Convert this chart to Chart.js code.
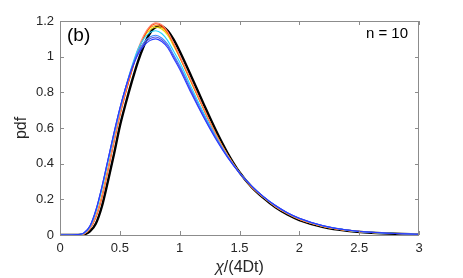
<!DOCTYPE html>
<html>
<head>
<meta charset="utf-8">
<script src="https://cdn.jsdelivr.net/npm/chart.js@4.4.1/dist/chart.umd.min.js"></script>
<style>
  html, body { margin: 0; padding: 0; background: #fff; }
  #wrap { width: 463px; height: 278px; position: relative; }
</style>
</head>
<body>
<div id="wrap"><canvas id="myChart" width="463" height="278"></canvas></div>
<script>
// grid of x values shared by every curve
const xVals = [0, 0.1, 0.15, 0.2, 0.25, 0.3, 0.35, 0.4, 0.45, 0.5, 0.55, 0.6, 0.65, 0.7, 0.75, 0.8, 0.85, 0.9, 0.95, 1.0,
  1.1, 1.2, 1.3, 1.4, 1.5, 1.6, 1.7, 1.8, 1.9, 2.0, 2.2, 2.4, 2.6, 2.8, 3.0];

// colored curves
const pdfBlue = [0, 0, 0.002, 0.012, 0.05, 0.14, 0.27, 0.42, 0.57, 0.71, 0.83, 0.93, 1.01, 1.06, 1.09, 1.10, 1.085, 1.05, 0.99, 0.93,
  0.79, 0.66, 0.54, 0.435, 0.347, 0.276, 0.215, 0.165, 0.125, 0.094, 0.052, 0.028, 0.015, 0.008, 0.004];
const pdfRoyal = [0, 0, 0.002, 0.012, 0.05, 0.14, 0.27, 0.42, 0.57, 0.71, 0.83, 0.935, 1.015, 1.07, 1.10, 1.11, 1.095, 1.06, 1.0, 0.94,
  0.80, 0.665, 0.545, 0.438, 0.348, 0.276, 0.215, 0.165, 0.125, 0.094, 0.052, 0.028, 0.015, 0.008, 0.004];
const pdfSky = [0, 0, 0.002, 0.011, 0.048, 0.135, 0.265, 0.415, 0.565, 0.705, 0.83, 0.94, 1.025, 1.08, 1.11, 1.12, 1.105, 1.07, 1.01, 0.95,
  0.81, 0.675, 0.55, 0.44, 0.348, 0.276, 0.215, 0.165, 0.124, 0.093, 0.051, 0.028, 0.015, 0.008, 0.004];
const pdfCyan = [0, 0, 0.002, 0.01, 0.045, 0.13, 0.255, 0.405, 0.555, 0.70, 0.83, 0.945, 1.04, 1.10, 1.135, 1.145, 1.13, 1.09, 1.03, 0.97,
  0.825, 0.685, 0.555, 0.442, 0.349, 0.275, 0.214, 0.164, 0.123, 0.092, 0.05, 0.027, 0.014, 0.008, 0.004];
const pdfYellow = [0, 0, 0.001, 0.007, 0.038, 0.11, 0.225, 0.375, 0.53, 0.68, 0.81, 0.925, 1.03, 1.105, 1.15, 1.165, 1.155, 1.12, 1.06, 0.995,
  0.85, 0.705, 0.567, 0.448, 0.35, 0.272, 0.212, 0.16, 0.12, 0.088, 0.048, 0.026, 0.014, 0.008, 0.004];
const pdfOrange = [0, 0, 0.001, 0.006, 0.035, 0.10, 0.21, 0.36, 0.52, 0.67, 0.80, 0.92, 1.03, 1.11, 1.16, 1.175, 1.165, 1.13, 1.07, 1.0,
  0.855, 0.71, 0.57, 0.449, 0.35, 0.272, 0.212, 0.16, 0.12, 0.088, 0.048, 0.026, 0.014, 0.008, 0.004];
const pdfRed = [0, 0, 0.001, 0.006, 0.035, 0.10, 0.21, 0.36, 0.52, 0.67, 0.80, 0.92, 1.03, 1.11, 1.165, 1.185, 1.175, 1.135, 1.07, 1.0,
  0.855, 0.708, 0.567, 0.447, 0.349, 0.272, 0.212, 0.16, 0.12, 0.088, 0.048, 0.026, 0.014, 0.008, 0.004];
const pdfSalmon = [0, 0, 0.001, 0.006, 0.036, 0.105, 0.215, 0.365, 0.525, 0.675, 0.81, 0.93, 1.04, 1.12, 1.17, 1.19, 1.18, 1.14, 1.075, 1.005,
  0.86, 0.71, 0.567, 0.448, 0.349, 0.272, 0.212, 0.16, 0.12, 0.088, 0.048, 0.026, 0.014, 0.008, 0.004];
// thick black reference curve
const pdfBlack = [0, 0, 0, 0.003, 0.02, 0.065, 0.16, 0.30, 0.45, 0.61, 0.74, 0.86, 0.97, 1.06, 1.13, 1.165, 1.17, 1.145, 1.095, 1.03,
  0.885, 0.735, 0.59, 0.46, 0.352, 0.27, 0.208, 0.155, 0.115, 0.084, 0.045, 0.024, 0.013, 0.007, 0.004];

const xTicks = [0, 0.5, 1, 1.5, 2, 2.5, 3];
const yTicks = [0, 0.2, 0.4, 0.6, 0.8, 1, 1.2];

const series = [
  { d: pdfBlue, c: '#2a3cff' },
  { d: pdfRoyal, c: '#5a55e0' },
  { d: pdfSky, c: '#3d8bff' },
  { d: pdfCyan, c: '#22d4ff' },
  { d: pdfSalmon, c: '#ff8a70' },
  { d: pdfRed, c: '#ff3300' },
  { d: pdfYellow, c: '#e8d800' },
  { d: pdfOrange, c: '#ff9900' },
];

function pts(arr) {
  return xVals.map((x, i) => ({ x: x, y: arr[i] }));
}

const datasets = series.map(s => ({
  data: pts(s.d),
  borderColor: s.c,
  borderWidth: 1.1,
  pointRadius: 0,
  cubicInterpolationMode: 'monotone',
  fill: false
}));
datasets.push({
  data: pts(pdfBlack),
  borderColor: '#000',
  borderWidth: 2.4,
  pointRadius: 0,
  cubicInterpolationMode: 'monotone',
  fill: false
});

const FONT = 'Liberation Sans, Arial, sans-serif';
const AXIS = '#262626';

// caja, ticks hacia adentro y textos
const boxPlugin = {
  id: 'boxPlugin',
  afterDraw(chart) {
    const { ctx, chartArea: a, scales } = chart;
    ctx.save();
    ctx.strokeStyle = '#8c8c8c';
    ctx.lineWidth = 1;
    ctx.strokeRect(a.left + 0.5, a.top + 0.5, a.right - a.left - 1, a.bottom - a.top);
    const L = 4;
    ctx.beginPath();
    xTicks.forEach(v => {
      const px = Math.round(scales.x.getPixelForValue(v)) + 0.5;
      ctx.moveTo(px, a.bottom); ctx.lineTo(px, a.bottom - L);
      ctx.moveTo(px, a.top); ctx.lineTo(px, a.top + L);
    });
    yTicks.forEach(v => {
      const py = Math.round(scales.y.getPixelForValue(v)) + 0.5;
      ctx.moveTo(a.left, py); ctx.lineTo(a.left + L, py);
      ctx.moveTo(a.right, py); ctx.lineTo(a.right - L, py);
    });
    ctx.stroke();

    ctx.fillStyle = '#000';
    ctx.font = '19px ' + FONT;
    ctx.textBaseline = 'middle';
    ctx.textAlign = 'left';
    ctx.fillText('(b)', a.left + 7, a.top + 15);
    ctx.font = '15px ' + FONT;
    ctx.textAlign = 'right';
    ctx.fillText('n = 10', a.right - 11, a.top + 13);

    // axis titles
    ctx.fillStyle = AXIS;
    ctx.font = '16px ' + FONT;
    const cx = (a.left + a.right) / 2;
    const w1 = ctx.measureText('/(4Dt)').width;
    ctx.font = 'italic 16px ' + FONT;
    const w0 = ctx.measureText('χ').width;
    const startX = cx - (w0 + w1) / 2;
    ctx.textAlign = 'left';
    ctx.fillText('χ', startX, 268);
    ctx.font = '16px ' + FONT;
    ctx.fillText('/(4Dt)', startX + w0, 268);

    ctx.translate(22, (a.top + a.bottom) / 2);
    ctx.rotate(-Math.PI / 2);
    ctx.textAlign = 'center';
    ctx.fillText('pdf', 0, 0);
    ctx.restore();
  }
};

const ctx = document.getElementById('myChart');
new Chart(ctx, {
  type: 'line',
  data: { datasets: datasets },
  options: {
    responsive: false,
    animation: false,
    layout: { padding: { top: 21, right: 44, left: 0, bottom: 0 } },
    plugins: { legend: { display: false }, tooltip: { enabled: false } },
    scales: {
      x: {
        type: 'linear', min: 0, max: 3,
        afterFit: s => { s.height = 43; },
        afterBuildTicks: s => { s.ticks = xTicks.map(v => ({ value: v })); },
        grid: { display: false, drawTicks: false },
        border: { display: false },
        ticks: { color: AXIS, font: { family: FONT, size: 13 }, padding: 6, maxRotation: 0,
          callback: v => String(v) }
      },
      y: {
        min: 0, max: 1.2,
        afterFit: s => { s.width = 60; },
        afterBuildTicks: s => { s.ticks = yTicks.map(v => ({ value: v })); },
        grid: { display: false, drawTicks: false },
        border: { display: false },
        ticks: { color: AXIS, font: { family: FONT, size: 13 }, padding: 6,
          callback: v => String(v) }
      }
    }
  },
  plugins: [boxPlugin]
});
</script>
</body>
</html>
